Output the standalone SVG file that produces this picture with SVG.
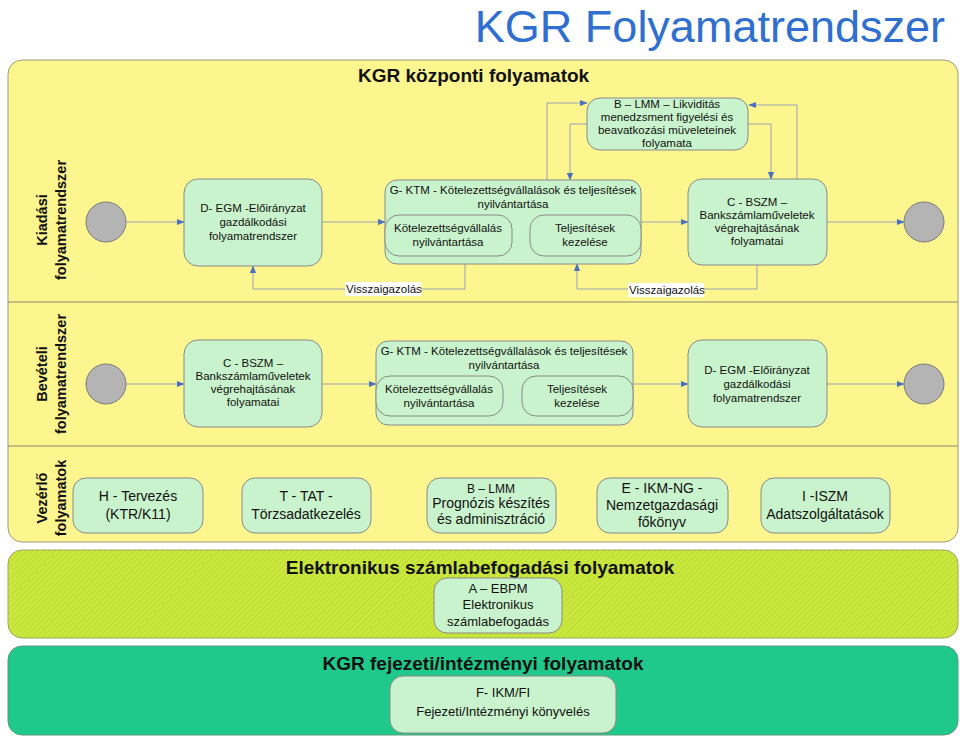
<svg xmlns="http://www.w3.org/2000/svg" width="960" height="737" viewBox="0 0 960 737">
<defs>
<marker id="ar" viewBox="0 0 10 10" refX="9" refY="5" markerWidth="8" markerHeight="8" orient="auto-start-reverse" markerUnits="userSpaceOnUse"><path d="M0,1 L10,5 L0,9 z" fill="#4a72c0"/></marker>
<pattern id="hatch" width="4" height="4" patternUnits="userSpaceOnUse" patternTransform="rotate(45)"><rect width="4" height="4" fill="#cbe83e"/><line x1="0" y1="0" x2="0" y2="4" stroke="#b2cc2a" stroke-width="1"/></pattern>
</defs>
<style>
text{font-family:"Liberation Sans",Arial,sans-serif;fill:#111}
.n{fill:#c9f3cc;stroke:#8a8a8a;stroke-width:1}
.ci{fill:#b4b4b4;stroke:#7a7a7a;stroke-width:1}
.ca{fill:none;stroke:#9aa4b0;stroke-width:1;marker-end:url(#ar)}
.s{font-size:11.5px}
.m{font-size:14px}
.lane{font-size:14.5px;font-weight:bold}
.h{font-weight:bold}
</style>
<rect width="960" height="737" fill="#fff"/>
<text x="945" y="42" text-anchor="end" font-size="45" style="fill:#2f6fd0">KGR Folyamatrendszer</text>
<rect x="8" y="60" width="950" height="482" rx="14" fill="#fdf58e" stroke="#9a9a80"/>
<line x1="8" y1="302" x2="958" y2="302" stroke="#8a8a70"/>
<line x1="8" y1="446" x2="958" y2="446" stroke="#8a8a70"/>
<text x="358" y="82" class="h" font-size="19">KGR központi folyamatok</text>
<g>
<text transform="translate(47,220) rotate(-90)" text-anchor="middle" class="lane">Kiadási</text>
<text transform="translate(66,220) rotate(-90)" text-anchor="middle" class="lane">folyamatrendszer</text>
<text transform="translate(47,374) rotate(-90)" text-anchor="middle" class="lane">Bevételi</text>
<text transform="translate(66,374) rotate(-90)" text-anchor="middle" class="lane">folyamatrendszer</text>
<text transform="translate(47,498) rotate(-90)" text-anchor="middle" class="lane">Vezérlő</text>
<text transform="translate(66,498) rotate(-90)" text-anchor="middle" class="lane">folyamatok</text>
</g>
<g id="connectors">
<line class="ca" x1="126" y1="222" x2="184" y2="222"/>
<line class="ca" x1="322" y1="222" x2="385" y2="222"/>
<line class="ca" x1="641" y1="222" x2="688" y2="222"/>
<line class="ca" x1="827" y1="222" x2="904" y2="222"/>
<line class="ca" x1="512" y1="236" x2="530" y2="236"/>
<polyline class="ca" points="547,180 547,103 587,103"/>
<polyline class="ca" points="587,124 570,124 570,180"/>
<polyline class="ca" points="748,124 771,124 771,179"/>
<polyline class="ca" points="797,179 797,105 749,105"/>
<polyline class="ca" points="465,264 465,289 253,289 253,266"/>
<polyline class="ca" points="757,265 757,289 577,289 577,264"/>
<line class="ca" x1="126" y1="384" x2="184" y2="384"/>
<line class="ca" x1="322" y1="384" x2="376" y2="384"/>
<line class="ca" x1="633" y1="384" x2="688" y2="384"/>
<line class="ca" x1="827" y1="384" x2="904" y2="384"/>
<line class="ca" x1="503" y1="397" x2="522" y2="397"/>
<rect x="345" y="282" width="76" height="14" style="fill:#fff"/>
<text x="346" y="293" class="s">Visszaigazolás</text>
<rect x="628" y="283" width="76" height="14" style="fill:#fff"/>
<text x="629" y="294" class="s">Visszaigazolás</text>
</g>
<g id="start1"><circle cx="106" cy="222" r="20" class="ci"/></g>
<g id="end1"><circle cx="924" cy="222" r="20" class="ci"/></g>
<g id="start2"><circle cx="106" cy="384" r="20" class="ci"/></g>
<g id="end2"><circle cx="924" cy="384" r="20" class="ci"/></g>
<g id="d1"><rect x="184" y="179" width="138" height="87" rx="14" class="n"/>
<text x="253" y="212" text-anchor="middle" class="s">D- EGM -Előirányzat</text><text x="253" y="226" text-anchor="middle" class="s">gazdálkodási</text><text x="253" y="240" text-anchor="middle" class="s">folyamatrendszer</text></g>
<g id="g1"><rect x="385" y="180" width="256" height="84" rx="12" class="n"/>
<text x="513" y="194" text-anchor="middle" class="s">G- KTM - Kötelezettségvállalások és teljesítések</text><text x="513" y="208" text-anchor="middle" class="s">nyilvántartása</text>
<rect x="385" y="215" width="127" height="41" rx="14" class="n"/>
<text x="448" y="232" text-anchor="middle" class="s">Kötelezettségvállalás</text><text x="448" y="246" text-anchor="middle" class="s">nyilvántartása</text>
<rect x="530" y="215" width="111" height="41" rx="14" class="n"/>
<text x="585" y="232" text-anchor="middle" class="s">Teljesítések</text><text x="585" y="246" text-anchor="middle" class="s">kezelése</text></g>
<g id="b1"><rect x="587" y="98" width="161" height="52" rx="13" class="n"/>
<text x="667" y="108" text-anchor="middle" class="s">B – LMM – Likviditás</text><text x="667" y="121" text-anchor="middle" class="s">menedzsment figyelési és</text><text x="667" y="134" text-anchor="middle" class="s">beavatkozási müveleteinek</text><text x="667" y="147" text-anchor="middle" class="s">folyamata</text></g>
<g id="c1"><rect x="688" y="179" width="139" height="86" rx="14" class="n"/>
<text x="757" y="206" text-anchor="middle" class="s">C - BSZM –</text><text x="757" y="219" text-anchor="middle" class="s">Bankszámlaműveletek</text><text x="757" y="232" text-anchor="middle" class="s">végrehajtásának</text><text x="757" y="245" text-anchor="middle" class="s">folyamatai</text></g>
<g id="c2"><rect x="184" y="340" width="138" height="87" rx="14" class="n"/>
<text x="253" y="367" text-anchor="middle" class="s">C - BSZM –</text><text x="253" y="380" text-anchor="middle" class="s">Bankszámlaműveletek</text><text x="253" y="393" text-anchor="middle" class="s">végrehajtásának</text><text x="253" y="406" text-anchor="middle" class="s">folyamatai</text></g>
<g id="g2"><rect x="376" y="341" width="257" height="84" rx="12" class="n"/>
<text x="504" y="355" text-anchor="middle" class="s">G- KTM - Kötelezettségvállalások és teljesítések</text><text x="504" y="369" text-anchor="middle" class="s">nyilvántartása</text>
<rect x="376" y="376" width="127" height="40" rx="14" class="n"/>
<text x="439" y="393" text-anchor="middle" class="s">Kötelezettségvállalás</text><text x="439" y="407" text-anchor="middle" class="s">nyilvántartása</text>
<rect x="522" y="376" width="111" height="40" rx="14" class="n"/>
<text x="577" y="393" text-anchor="middle" class="s">Teljesítések</text><text x="577" y="407" text-anchor="middle" class="s">kezelése</text></g>
<g id="d2"><rect x="688" y="340" width="139" height="87" rx="14" class="n"/>
<text x="757" y="374" text-anchor="middle" class="s">D- EGM -Előirányzat</text><text x="757" y="388" text-anchor="middle" class="s">gazdálkodási</text><text x="757" y="402" text-anchor="middle" class="s">folyamatrendszer</text></g>
<g id="h"><rect x="73" y="478" width="130" height="55" rx="13" class="n"/>
<text x="138" y="501" text-anchor="middle" class="m">H - Tervezés</text><text x="138" y="519" text-anchor="middle" class="m">(KTR/K11)</text></g>
<g id="t"><rect x="242" y="478" width="129" height="55" rx="13" class="n"/>
<text x="306" y="501" text-anchor="middle" class="m">T -  TAT -</text><text x="306" y="519" text-anchor="middle" class="m">Törzsadatkezelés</text></g>
<g id="b3"><rect x="427" y="478" width="129" height="55" rx="13" class="n"/>
<text x="491" y="493" text-anchor="middle" font-size="12">B – LMM</text><text x="491" y="508" text-anchor="middle" class="m">Prognózis készítés</text><text x="491" y="524" text-anchor="middle" class="m">és adminisztráció</text></g>
<g id="e"><rect x="597" y="478" width="131" height="55" rx="13" class="n"/>
<text x="662" y="493" text-anchor="middle" class="m">E -  IKM-NG -</text><text x="662" y="510" text-anchor="middle" class="m">Nemzetgazdasági</text><text x="662" y="527" text-anchor="middle" class="m">főkönyv</text></g>
<g id="i"><rect x="761" y="478" width="129" height="55" rx="13" class="n"/>
<text x="825" y="501" text-anchor="middle" class="m">I -ISZM</text><text x="825" y="519" text-anchor="middle" class="m">Adatszolgáltatások</text></g>
<rect x="8" y="550" width="950" height="88" rx="14" fill="url(#hatch)" stroke="#9aa860"/>
<text x="480" y="574" text-anchor="middle" class="h" font-size="19">Elektronikus számlabefogadási folyamatok</text>
<g id="a"><rect x="434" y="578" width="128" height="55" rx="13" class="n"/>
<text x="498" y="593" text-anchor="middle" font-size="13">A – EBPM</text><text x="498" y="609" text-anchor="middle" font-size="13">Elektronikus</text><text x="498" y="626" text-anchor="middle" font-size="13">számlabefogadás</text></g>
<rect x="8" y="646" width="950" height="89" rx="14" fill="#1fc98c" stroke="#5a9a7a"/>
<text x="483" y="670" text-anchor="middle" class="h" font-size="19">KGR fejezeti/intézményi folyamatok</text>
<g id="f"><rect x="390" y="676" width="226" height="57" rx="13" class="n"/>
<text x="503" y="697" text-anchor="middle" font-size="13">F- IKM/FI</text><text x="503" y="716" text-anchor="middle" font-size="13">Fejezeti/Intézményi könyvelés</text></g>
</svg>
